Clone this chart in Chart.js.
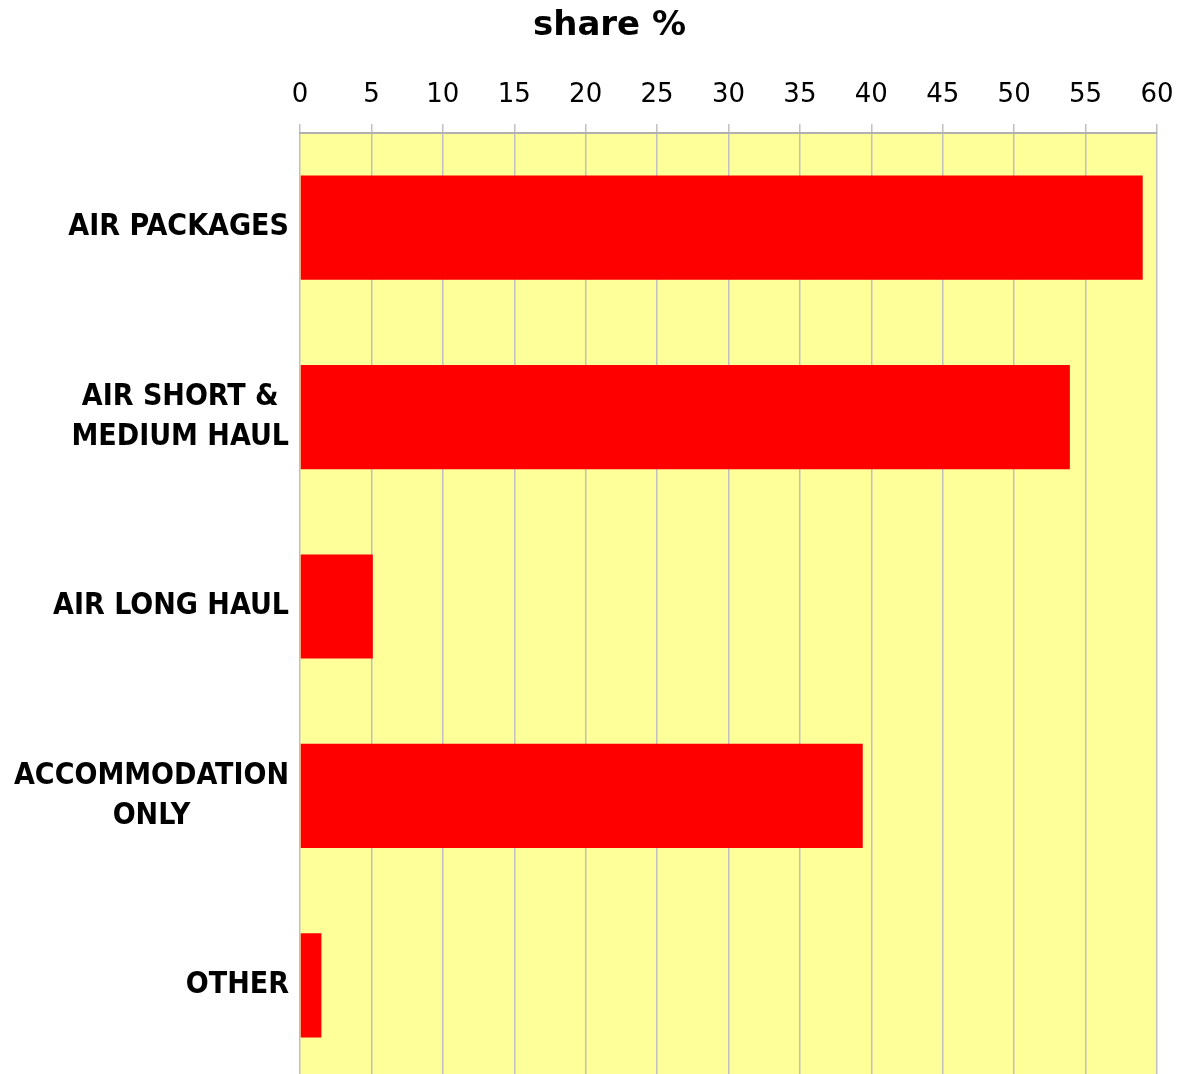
<!DOCTYPE html>
<html>
<head>
<meta charset="utf-8">
<script src="https://cdn.jsdelivr.net/npm/chart.js@4"></script>
<style>
  html, body { margin: 0; padding: 0; background: #fff; overflow: hidden; }
  #wrap { width: 1191px; height: 1080px; }
</style>
</head>
<body>
<div id="wrap"><canvas id="shareChart"></canvas></div>
<script>
// categories and values (share %)
var categories = [['AIR PACKAGES'], ['AIR SHORT &', 'MEDIUM HAUL'], ['AIR LONG HAUL'], ['ACCOMMODATION', 'ONLY'], ['OTHER']];
var shareValues = [59.0, 53.9, 5.1, 39.4, 1.5];
var xTicks = [0, 5, 10, 15, 20, 25, 30, 35, 40, 45, 50, 55, 60];

// yellow plot background
var plotBg = {
    id: 'plotBg',
    beforeDraw: function(chart) {
        var a = chart.chartArea, ctx = chart.ctx;
        ctx.save();
        ctx.fillStyle = '#ffff99';
        ctx.fillRect(a.left, a.top, a.right - a.left, a.bottom - a.top);
        ctx.restore();
    }
};

// category labels: block right aligned, lines centered inside block
var catLabels = {
    id: 'catLabels',
    afterDraw: function(chart) {
        var ctx = chart.ctx, y = chart.scales.y;
        ctx.save();
        ctx.font = 'bold 30px "DejaVu Sans Condensed", "DejaVu Sans", sans-serif';
        ctx.fillStyle = '#000';
        ctx.textBaseline = 'middle';
        ctx.textAlign = 'center';
        var lineH = 40, rightEdge = 289;
        categories.forEach(function(lines, i) {
            var cy = y.getPixelForValue(i);
            var w = Math.max.apply(null, lines.map(function(t) { return ctx.measureText(t).width; }));
            var cx = rightEdge - w / 2;
            var y0 = cy - (lines.length - 1) * lineH / 2;
            lines.forEach(function(t, j) {
                ctx.fillText(t, cx, y0 + j * lineH);
            });
        });
        ctx.restore();
    }
};

var ctx = document.getElementById('shareChart').getContext('2d');
var shareChart = new Chart(ctx, {
    type: 'bar',
    data: {
        labels: categories.map(function(l) { return l.join(' '); }),
        datasets: [{
            data: shareValues,
            backgroundColor: '#ff0000',
            categoryPercentage: 1,
            barPercentage: 0.55
        }]
    },
    options: {
        indexAxis: 'y',
        responsive: true,
        maintainAspectRatio: false,
        animation: false,
        layout: { padding: { left: 62, right: 34, top: 6, bottom: 0 } },
        scales: {
            x: {
                position: 'top',
                min: 0,
                max: 60,
                afterBuildTicks: function(axis) {
                    axis.ticks = xTicks.map(function(v) { return { value: v }; });
                },
                ticks: {
                    color: '#000',
                    padding: 13,
                    maxRotation: 0,
                    font: { family: '"DejaVu Sans", sans-serif', size: 26 }
                },
                grid: { color: '#c0c0c0', tickLength: 9, lineWidth: 1.5 },
                border: { color: '#b0b0b0', width: 2 }
            },
            y: {
                ticks: { display: false },
                grid: { display: false },
                border: { display: false },
                afterFit: function(axis) { axis.width = 238; }
            }
        },
        plugins: {
            legend: { display: false },
            tooltip: { enabled: false },
            title: {
                display: true,
                text: 'share %',
                color: '#000',
                font: { family: '"DejaVu Sans", sans-serif', size: 34, weight: 'bold' },
                padding: { top: 0, bottom: 20 }
            }
        }
    },
    plugins: [plotBg, catLabels]
});
</script>
</body>
</html>
